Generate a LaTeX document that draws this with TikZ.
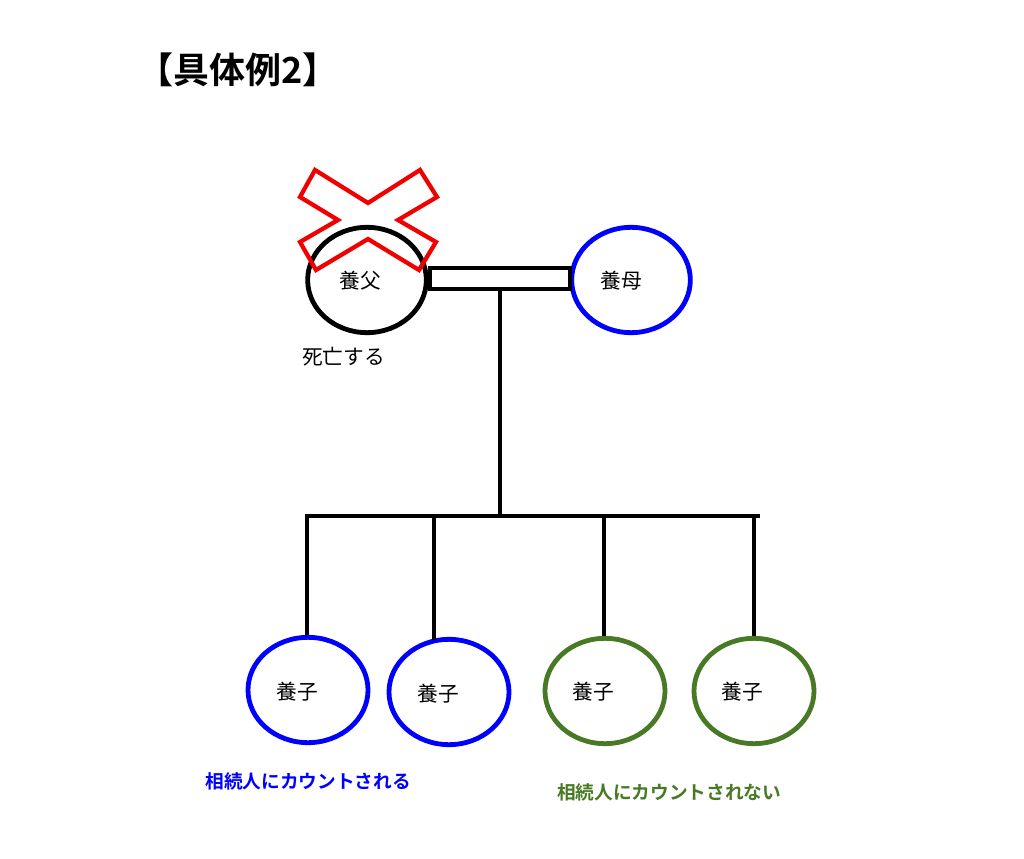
\documentclass[tikz,border=0pt]{standalone}
\usepackage{fontspec}
\setmainfont{Noto Sans CJK JP}[BoldFont={Noto Sans CJK JP Bold}]
\usetikzlibrary{shapes.geometric}
\definecolor{kblue}{RGB}{0,0,255}
\definecolor{kgreen}{RGB}{72,122,38}
\definecolor{kred}{RGB}{240,0,0}
\begin{document}
\begin{tikzpicture}[x=0.75pt,y=-0.75pt,
  person/.style={ellipse,draw,line width=3.6pt,minimum width=89pt,minimum height=79pt,inner sep=0pt},
  child/.style={person,minimum width=90pt,minimum height=79pt},
  link/.style={line width=3.5pt,black},
  lbl/.style={font=\fontsize{15.5pt}{17pt}\selectfont,inner sep=0pt}]
\useasboundingbox (0,0) rectangle (1024,859);
\fill[white] (0,0) rectangle (1024,859);
% title
\node[font=\fontsize{27pt}{30pt}\selectfont\bfseries,inner sep=0pt] (title) at (238,70) {【具体例2】};
% parents
\node[person,draw=black] (father) at (367,280) {};
\node[person,draw=kblue] (mother) at (631,280) {};
\node[lbl] (fatherl) at (360,281) {養父};
\node[lbl] (motherl) at (621,281) {養母};
\node[lbl,anchor=west] (dead) at (302,357) {死亡する};
% cross
\draw[kred,line width=3.2pt,line join=miter]
  (315,170) -- (368,203) -- (420,170) -- (437,197) -- (398,220) -- (436,242)
  -- (419,270) -- (368,239) -- (316,270) -- (300,242) -- (338,220) -- (300,197) -- cycle;
% marriage
\coordinate (mtl) at (430,268);
\coordinate (mbr) at (570,289);
\draw[link] (mtl) rectangle (mbr);
\coordinate (stemtop) at (500,289);
\coordinate (stembot) at (500,516);
\draw[link] (stemtop) -- (stembot);
\coordinate (barl) at (305,516);
\coordinate (barr) at (760,516);
\draw[link] (barl) -- (barr);
% children
\node[child,draw=kblue] (c1) at (308,690) {};
\node[child,draw=kblue] (c2) at (449,692) {};
\node[child,draw=kgreen] (c3) at (605,691) {};
\node[child,draw=kgreen] (c4) at (754,691) {};
\node[lbl] (c1l) at (297,692) {養子};
\node[lbl] (c2l) at (438,694) {養子};
\node[lbl] (c3l) at (593,692) {養子};
\node[lbl] (c4l) at (742,692) {養子};
\coordinate (d1) at (307,516);
\coordinate (d2) at (434,516);
\coordinate (d3) at (604,516);
\coordinate (d4) at (754,516);
\draw[link] (d1) -- (d1 |- c1.north);
\draw[link] (d2) -- ([yshift=-2pt]d2 |- c2.north);
\draw[link] (d3) -- (d3 |- c3.north);
\draw[link] (d4) -- (d4 |- c4.north);
% notes
\node[font=\fontsize{14pt}{16pt}\selectfont\bfseries,text=kblue,inner sep=0pt] (n1) at (308,781) {相続人にカウントされる};
\node[font=\fontsize{14pt}{16pt}\selectfont\bfseries,text=kgreen,inner sep=0pt] (n2) at (669,792) {相続人にカウントされない};
\end{tikzpicture}
\end{document}
